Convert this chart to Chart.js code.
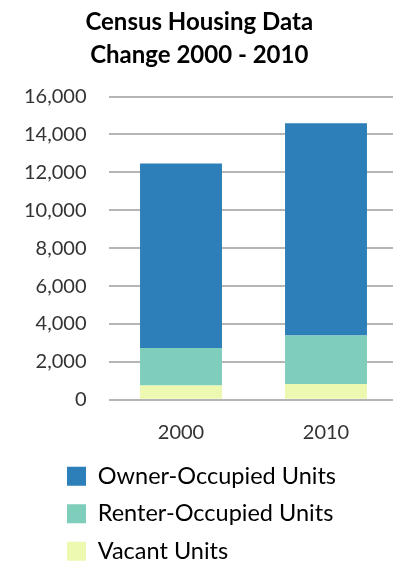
<!DOCTYPE html>
<html>
<head>
<meta charset="utf-8">
<script src="https://cdn.jsdelivr.net/npm/chart.js@4.4.1/dist/chart.umd.min.js"></script>
<style>
    html, body { margin: 0; padding: 0; background: #fff; overflow: hidden; }
    #wrap { position: relative; width: 410px; height: 573px; }
</style>
</head>
<body>
<div id="wrap"><canvas id="housingChart"></canvas></div>
<script>
// values
const years = ['2000', '2010'];
const vacantUnits = [760, 830];
const renterUnits = [1975, 2565];
const ownerUnits = [9730, 11195];
const yTicks = [0, 2000, 4000, 6000, 8000, 10000, 12000, 14000, 16000];

document.addEventListener('DOMContentLoaded', function() {
    const ctx = document.getElementById('housingChart').getContext('2d');

    // push the legend to the right a bit (items keep left alignment)
    const legendShift = {
        id: 'legendShift',
        afterLayout(chart) {
            chart.legend.left = 53;
        }
    };

    const data = {
        labels: years,
        datasets: [
            { label: 'Vacant Units', data: vacantUnits, backgroundColor: '#edf8b1' },
            { label: 'Renter-Occupied Units', data: renterUnits, backgroundColor: '#7fcdbb' },
            { label: 'Owner-Occupied Units', data: ownerUnits, backgroundColor: '#2c7fb8' }
        ]
    };

    const config = {
        type: 'bar',
        data: data,
        options: {
            responsive: true,
            maintainAspectRatio: false,
            animation: false,
            layout: { padding: { left: 0, right: 11.5, top: 0, bottom: 0 } },
            datasets: {
                bar: { categoryPercentage: 1, barPercentage: 0.565, borderWidth: 0 }
            },
            plugins: {
                title: {
                    display: true,
                    text: ['Census Housing Data', 'Change 2000 - 2010'],
                    color: '#000',
                    font: { family: 'Lato', size: 24, weight: 'bold', lineHeight: 1.375 },
                    padding: { top: 6, bottom: 24.5 }
                },
                legend: {
                    position: 'bottom',
                    align: 'start',
                    reverse: true,
                    labels: {
                        boxWidth: 19,
                        boxHeight: 19,
                        padding: 14,
                        color: '#000',
                        font: { family: 'Lato', size: 23.5 }
                    }
                },
                tooltip: { enabled: false }
            },
            scales: {
                x: {
                    stacked: true,
                    grid: { display: false, drawTicks: false },
                    border: { display: false },
                    ticks: { color: '#333', padding: 21, font: { family: 'Lato', size: 20 } },
                    afterFit: function(scale) { scale.height = 50.7; }
                },
                y: {
                    stacked: true,
                    min: 0,
                    max: 16000,
                    afterBuildTicks: function(scale) {
                        scale.ticks = yTicks.map(v => ({ value: v }));
                    },
                    grid: { color: '#b5b5b5', lineWidth: 2, drawTicks: false },
                    border: { display: false },
                    ticks: {
                        color: '#333',
                        padding: 22,
                        font: { family: 'Lato', size: 20 },
                        callback: v => v.toLocaleString('en-US')
                    },
                    afterFit: function(scale) { scale.width = 108.5; }
                }
            }
        },
        plugins: [legendShift]
    };

    new Chart(ctx, config);
});
</script>
</body>
</html>
